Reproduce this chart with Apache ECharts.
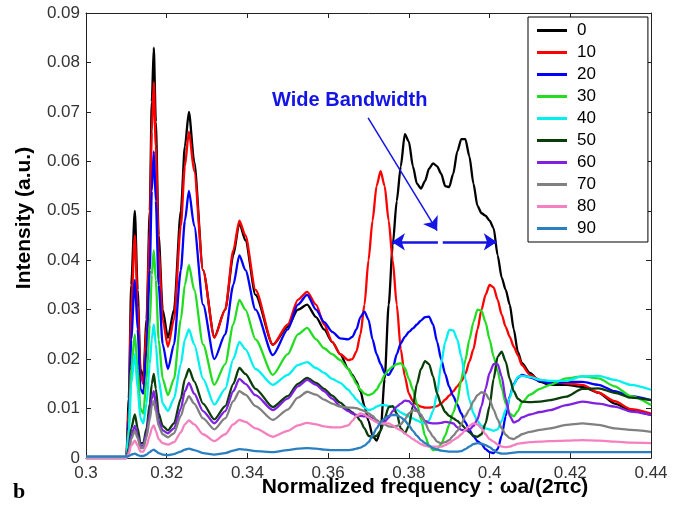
<!DOCTYPE html>
<html>
<head>
<meta charset="utf-8">
<script src="https://cdn.jsdelivr.net/npm/echarts@6/dist/echarts.min.js"></script>
<style>
html, body { margin: 0; padding: 0; background: #fff; }
#main { width: 676px; height: 511px; }
</style>
</head>
<body>
<div id="main"></div>
<script>
// intensity spectra for the incidence angles 0..90
var angles = ['0', '10', '20', '30', '40', '50', '60', '70', '80', '90'];
var colors = ['#000000', '#ff0000', '#0000ff', '#22dd22', '#00f0f0', '#0a3d0a', '#8020e0', '#808080', '#f580c0', '#2a7fc0'];

// normalized frequency wa/(2 pi c)
var freq = [
    0.300, 0.310, 0.3106, 0.3112, 0.3121, 0.3128, 0.3135, 0.3142, 0.3150, 0.3158, 0.3163, 0.3168, 0.3173, 0.3180, 0.3190, 0.3203, 0.3218, 0.3235, 0.3245, 0.3255, 0.3268, 0.3290, 0.3318, 0.3345, 0.3365, 0.3380, 0.3395, 0.3420, 0.3463, 0.3500, 0.3525, 0.3548, 0.3570, 0.3590, 0.3610, 0.3630, 0.3650,
    0.366, 0.367, 0.368, 0.369, 0.370, 0.371, 0.372, 0.373, 0.374, 0.375, 0.376, 0.377, 0.378, 0.379, 0.380, 0.381, 0.382, 0.383, 0.384, 0.385, 0.386, 0.387, 0.388, 0.389, 0.390, 0.391, 0.392, 0.393, 0.394, 0.395, 0.396, 0.397, 0.398, 0.399, 0.400, 0.401, 0.402, 0.403, 0.404, 0.405, 0.406, 0.407, 0.408,
    0.410, 0.4125, 0.415, 0.419, 0.423, 0.427, 0.431, 0.435, 0.440
];

var int0 = [
    0, 0, 0.012, 0.035, 0.050, 0.034, 0.018, 0.016, 0.028, 0.050, 0.072, 0.083, 0.068, 0.045, 0.030, 0.0243, 0.030, 0.050, 0.063, 0.070, 0.060, 0.038, 0.0245, 0.030, 0.041, 0.0475, 0.044, 0.033, 0.0229, 0.0265, 0.030, 0.031, 0.0285, 0.026, 0.0235, 0.021, 0.018,
    0.0168, 0.0155, 0.0135, 0.0105, 0.0075, 0.0045, 0.0035, 0.0055, 0.016, 0.031, 0.043, 0.052, 0.059, 0.0655, 0.064, 0.059, 0.0555, 0.0545, 0.056, 0.0585, 0.0596, 0.059, 0.0575, 0.055, 0.0548, 0.0575, 0.062, 0.0645, 0.0645, 0.061, 0.0555, 0.051, 0.0495, 0.049, 0.048, 0.0465, 0.041, 0.0365, 0.034, 0.031, 0.026, 0.0215, 0.0192,
    0.0172, 0.0154, 0.0148, 0.0148, 0.0144, 0.0132, 0.011, 0.0096, 0.0087
];
var int10 = [
    0, 0, 0.010, 0.030, 0.045, 0.031, 0.017, 0.015, 0.026, 0.046, 0.066, 0.076, 0.063, 0.042, 0.028, 0.0225, 0.028, 0.047, 0.059, 0.066, 0.058, 0.038, 0.0243, 0.030, 0.042, 0.048, 0.045, 0.034, 0.0229, 0.027, 0.032, 0.0336, 0.031, 0.027, 0.0235, 0.021, 0.0198,
    0.020, 0.0215, 0.025, 0.031, 0.040, 0.048, 0.055, 0.058, 0.055, 0.048, 0.040, 0.031, 0.022, 0.0165, 0.013, 0.0115, 0.0108, 0.0104, 0.0102, 0.0102, 0.0103, 0.0105, 0.011, 0.0118, 0.0126, 0.0135, 0.0145, 0.0155, 0.017, 0.0195, 0.022, 0.026, 0.030, 0.033, 0.035, 0.0345, 0.032, 0.029, 0.0265, 0.0245, 0.0225, 0.0208, 0.0188,
    0.0168, 0.0158, 0.0154, 0.0151, 0.0148, 0.0132, 0.0115, 0.0099, 0.009
];
var int20 = [
    0, 0, 0.008, 0.024, 0.036, 0.026, 0.014, 0.013, 0.022, 0.038, 0.054, 0.062, 0.052, 0.035, 0.023, 0.018, 0.023, 0.038, 0.048, 0.054, 0.047, 0.031, 0.020, 0.025, 0.035, 0.041, 0.038, 0.030, 0.0208, 0.026, 0.031, 0.033, 0.030, 0.0275, 0.0255, 0.0242, 0.024,
    0.0245, 0.026, 0.0285, 0.0296, 0.028, 0.024, 0.021, 0.019, 0.0172, 0.0168, 0.018, 0.021, 0.0232, 0.0245, 0.0255, 0.0262, 0.027, 0.0278, 0.0285, 0.0286, 0.027, 0.0235, 0.020, 0.017, 0.0144, 0.0125, 0.0108, 0.009, 0.0072, 0.0057, 0.0044, 0.0034, 0.0028, 0.0018, 0.0012, 0.001, 0.0018, 0.0045, 0.0085, 0.0125, 0.015, 0.0162, 0.0168,
    0.0163, 0.0156, 0.0151, 0.0154, 0.0154, 0.0148, 0.0135, 0.0125, 0.0117
];
var int30 = [
    0, 0, 0.006, 0.018, 0.025, 0.018, 0.010, 0.009, 0.016, 0.027, 0.037, 0.042, 0.036, 0.024, 0.016, 0.0127, 0.016, 0.028, 0.035, 0.039, 0.034, 0.023, 0.0148, 0.019, 0.027, 0.032, 0.030, 0.024, 0.0168, 0.021, 0.025, 0.0263, 0.024, 0.0222, 0.021, 0.0198, 0.018,
    0.0165, 0.015, 0.0138, 0.013, 0.0127, 0.013, 0.0138, 0.0152, 0.0168, 0.0178, 0.0185, 0.019, 0.0192, 0.0182, 0.016, 0.0138, 0.011, 0.0078, 0.0045, 0.0025, 0.0016, 0.0018, 0.0028, 0.0045, 0.0068, 0.0092, 0.0115, 0.016, 0.0198, 0.024, 0.0275, 0.030, 0.0298, 0.0275, 0.024, 0.0205, 0.0175, 0.0142, 0.011, 0.009, 0.0084, 0.0095, 0.0112,
    0.0128, 0.014, 0.0148, 0.0161, 0.0165, 0.0161, 0.0145, 0.0125, 0.0107
];
var int40 = [
    0, 0, 0.005, 0.015, 0.021, 0.014, 0.008, 0.007, 0.011, 0.019, 0.024, 0.027, 0.023, 0.016, 0.011, 0.0095, 0.012, 0.019, 0.024, 0.026, 0.023, 0.016, 0.0108, 0.014, 0.020, 0.0235, 0.022, 0.018, 0.0148, 0.0168, 0.0188, 0.0194, 0.0182, 0.0172, 0.016, 0.0152, 0.0138,
    0.0128, 0.0118, 0.011, 0.0102, 0.0097, 0.0099, 0.0104, 0.0107, 0.0107, 0.0105, 0.0104, 0.0098, 0.0092, 0.0088, 0.0084, 0.008, 0.0076, 0.0072, 0.007, 0.0076, 0.0095, 0.013, 0.019, 0.0235, 0.0259, 0.0258, 0.024, 0.0205, 0.016, 0.0118, 0.009, 0.0075, 0.0065, 0.006, 0.0058, 0.0055, 0.0058, 0.0075, 0.0098, 0.0122, 0.0148, 0.0164, 0.0166,
    0.0164, 0.0158, 0.0156, 0.0156, 0.0165, 0.0166, 0.0158, 0.0148, 0.0138
];
var int50 = [
    0, 0, 0.002, 0.006, 0.0088, 0.006, 0.003, 0.003, 0.006, 0.011, 0.015, 0.017, 0.014, 0.009, 0.0065, 0.0056, 0.007, 0.012, 0.016, 0.018, 0.0155, 0.011, 0.0078, 0.0105, 0.015, 0.0182, 0.017, 0.014, 0.0103, 0.0125, 0.015, 0.0162, 0.0152, 0.014, 0.0126, 0.0112, 0.0098,
    0.0092, 0.0085, 0.0075, 0.006, 0.0045, 0.0042, 0.0045, 0.0055, 0.008, 0.0103, 0.0105, 0.009, 0.006, 0.005, 0.0065, 0.0105, 0.015, 0.018, 0.0196, 0.019, 0.0165, 0.013, 0.0108, 0.0093, 0.0085, 0.008, 0.0075, 0.0068, 0.006, 0.0052, 0.0045, 0.0043, 0.0048, 0.007, 0.0105, 0.016, 0.0205, 0.0215, 0.0195, 0.016, 0.0135, 0.012, 0.0114,
    0.0113, 0.0114, 0.0117, 0.0124, 0.014, 0.0141, 0.0132, 0.0122, 0.0117
];
var int60 = [
    0, 0, 0.0015, 0.0045, 0.0065, 0.0045, 0.0025, 0.0025, 0.005, 0.009, 0.012, 0.0135, 0.011, 0.0075, 0.0056, 0.005, 0.006, 0.010, 0.0135, 0.0152, 0.013, 0.0095, 0.007, 0.0095, 0.0135, 0.016, 0.015, 0.0127, 0.0097, 0.012, 0.0145, 0.0158, 0.0148, 0.0135, 0.012, 0.0105, 0.0095,
    0.009, 0.0087, 0.0085, 0.0084, 0.0084, 0.008, 0.0073, 0.007, 0.0073, 0.0082, 0.0095, 0.0104, 0.011, 0.0116, 0.0115, 0.0107, 0.0097, 0.0085, 0.0075, 0.0071, 0.007, 0.007, 0.0071, 0.0073, 0.0072, 0.007, 0.0062, 0.0057, 0.0056, 0.0057, 0.0065, 0.0078, 0.0105, 0.014, 0.0172, 0.019, 0.019, 0.0165, 0.012, 0.0085, 0.0072, 0.0075, 0.0082,
    0.0088, 0.0093, 0.0097, 0.0107, 0.0114, 0.011, 0.0104, 0.0094, 0.0087
];
var int70 = [
    0, 0, 0.0012, 0.0038, 0.0055, 0.004, 0.002, 0.002, 0.0042, 0.0078, 0.0105, 0.0115, 0.0095, 0.0065, 0.0048, 0.0042, 0.005, 0.0085, 0.011, 0.0125, 0.011, 0.008, 0.0058, 0.008, 0.0115, 0.0135, 0.0128, 0.0105, 0.0077, 0.0098, 0.0122, 0.0134, 0.0128, 0.0118, 0.011, 0.0104, 0.0102,
    0.0102, 0.0101, 0.0098, 0.0095, 0.009, 0.0085, 0.0077, 0.0071, 0.0068, 0.0064, 0.0063, 0.0065, 0.0068, 0.0078, 0.009, 0.0097, 0.0095, 0.0088, 0.0072, 0.0055, 0.0043, 0.0033, 0.003, 0.0032, 0.0036, 0.0045, 0.0055, 0.0068, 0.0085, 0.0098, 0.0115, 0.0127, 0.0133, 0.013, 0.0118, 0.0098, 0.0078, 0.006, 0.0047, 0.004, 0.0038, 0.0043, 0.0048,
    0.0053, 0.0057, 0.006, 0.0067, 0.007, 0.0067, 0.006, 0.0057, 0.0053
];
var int80 = [
    0, 0, 0.0008, 0.0025, 0.0035, 0.0025, 0.0013, 0.0013, 0.0025, 0.0045, 0.006, 0.0066, 0.0055, 0.0038, 0.003, 0.0027, 0.0032, 0.0052, 0.0068, 0.0076, 0.0068, 0.0048, 0.0034, 0.0048, 0.0068, 0.0077, 0.0073, 0.006, 0.0043, 0.0055, 0.0066, 0.0071, 0.0068, 0.0064, 0.0062, 0.0062, 0.0066,
    0.0075, 0.0085, 0.009, 0.0088, 0.0082, 0.0077, 0.0072, 0.007, 0.007, 0.007, 0.0066, 0.006, 0.0056, 0.005, 0.0044, 0.0038, 0.0033, 0.0028, 0.0025, 0.0023, 0.0023, 0.0023, 0.0023, 0.0026, 0.003, 0.0036, 0.0041, 0.0048, 0.0057, 0.0065, 0.007, 0.0068, 0.006, 0.0048, 0.0038, 0.0033, 0.0027, 0.0023, 0.0022, 0.0023, 0.0026, 0.0029, 0.003,
    0.0032, 0.0033, 0.0034, 0.0035, 0.0036, 0.0035, 0.0033, 0.0031, 0.003
];
var int90 = [
    0.0003, 0.0003, 0.0004, 0.0007, 0.0009, 0.0006, 0.0004, 0.0004, 0.0007, 0.0012, 0.0015, 0.0017, 0.0014, 0.001, 0.0007, 0.0006, 0.0008, 0.0013, 0.0017, 0.0019, 0.0016, 0.001, 0.0007, 0.001, 0.0015, 0.0018, 0.0017, 0.0014, 0.0012, 0.0016, 0.0019, 0.002, 0.0019, 0.0017, 0.0016, 0.0016, 0.0016,
    0.0017, 0.0019, 0.0021, 0.0025, 0.0032, 0.0045, 0.006, 0.0072, 0.008, 0.0085, 0.0087, 0.0087, 0.0082, 0.0076, 0.0066, 0.0055, 0.0045, 0.0036, 0.003, 0.0025, 0.002, 0.0017, 0.0015, 0.0014, 0.0013, 0.0013, 0.0013, 0.0014, 0.0018, 0.0023, 0.0028, 0.003, 0.0029, 0.0026, 0.0022, 0.0016, 0.0011, 0.0009, 0.0009, 0.001, 0.0011, 0.0012, 0.0012,
    0.0012, 0.0012, 0.0012, 0.0012, 0.0012, 0.0012, 0.0012, 0.0012, 0.0012
];
var intensity = [int0, int10, int20, int30, int40, int50, int60, int70, int80, int90];

var myChart = echarts.init(document.getElementById('main'));
var font = "'Liberation Sans', Arial, sans-serif";

var series = angles.map(function (name, k) {
    if (intensity[k].length !== freq.length) console.error('length mismatch', name, intensity[k].length);
    return {
        name: name,
        type: 'line',
        symbol: 'none',
        smooth: 0.25,
        smoothMonotone: 'x',
        color: colors[k],
        lineStyle: { width: 2.3, color: colors[k] },
        data: freq.map(function (f, i) { return [f, intensity[k][i]]; })
    };
});

// "Wide Bandwidth" annotation
series.push({
    name: 'note',
    type: 'line',
    data: [],
    z: 5,
    markLine: {
        silent: true,
        symbol: ['none', 'arrow'],
        symbolSize: 13,
        label: { show: false },
        lineStyle: { color: '#1414e6', width: 2.5, type: 'solid' },
        data: [
            [{ coord: [0.3699, 0.0688], lineStyle: { width: 1.5 } }, { coord: [0.3870, 0.0460] }],
            [{ coord: [0.3872, 0.0437] }, { coord: [0.3758, 0.0437] }],
            [{ coord: [0.3884, 0.0437] }, { coord: [0.4018, 0.0437] }]
        ]
    },
    markPoint: {
        silent: true,
        symbol: 'circle',
        symbolSize: 0,
        label: {
            show: true,
            position: 'right',
            distance: 0,
            formatter: 'Wide Bandwidth',
            color: '#1414e6',
            fontWeight: 'bold',
            fontSize: 20,
            fontFamily: font
        },
        data: [{ coord: [0.3461, 0.0724] }]
    }
});

option = {
    animation: false,
    backgroundColor: '#fff',
    grid: { left: 86, right: 25, top: 13, bottom: 53 },
    legend: {
        data: angles,
        orient: 'vertical',
        left: 528,
        top: 17,
        icon: 'rect',
        itemWidth: 30,
        itemHeight: 3,
        itemGap: 5,
        padding: [5, 52, 5, 9],
        backgroundColor: '#fff',
        borderColor: '#000',
        borderWidth: 1,
        textStyle: { fontSize: 17, color: '#000', fontFamily: font, padding: [0, 0, 0, 5] }
    },
    xAxis: [{
        type: 'value',
        min: 0.3,
        max: 0.44,
        interval: 0.02,
        position: 'bottom',
        axisLine: { onZero: false, lineStyle: { color: '#222' } },
        axisTick: { inside: true, length: 5, lineStyle: { color: '#222' } },
        axisLabel: { fontSize: 17, color: '#333', margin: 7, fontFamily: font },
        splitLine: { show: false }
    }, {
        type: 'value',
        min: 0.3,
        max: 0.44,
        interval: 0.02,
        position: 'top',
        axisLine: { onZero: false, lineStyle: { color: '#222' } },
        axisTick: { inside: true, length: 5, lineStyle: { color: '#222' } },
        axisLabel: { show: false },
        splitLine: { show: false }
    }],
    yAxis: [{
        type: 'value',
        min: 0,
        max: 0.09,
        interval: 0.01,
        position: 'left',
        axisLine: { show: true, onZero: false, lineStyle: { color: '#222' } },
        axisTick: { show: true, inside: true, length: 5, lineStyle: { color: '#222' } },
        axisLabel: { fontSize: 17, color: '#333', margin: 6, fontFamily: font },
        splitLine: { show: false }
    }, {
        type: 'value',
        min: 0,
        max: 0.09,
        interval: 0.01,
        position: 'right',
        axisLine: { show: true, onZero: false, lineStyle: { color: '#222' } },
        axisTick: { show: true, inside: true, length: 5, lineStyle: { color: '#222' } },
        axisLabel: { show: false },
        splitLine: { show: false }
    }],
    graphic: [{
        type: 'text',
        x: 425,
        y: 487,
        style: {
            text: 'Normalized frequency : \u03c9a/(2\u03c0c)',
            font: "bold 21px 'Liberation Sans', Arial, sans-serif",
            textAlign: 'center',
            textVerticalAlign: 'middle',
            fill: '#000'
        }
    }, {
        type: 'text',
        x: 24,
        y: 218,
        rotation: Math.PI / 2,
        style: {
            text: 'Intensity (a.u.)',
            font: "bold 21px 'Liberation Sans', Arial, sans-serif",
            textAlign: 'center',
            textVerticalAlign: 'middle',
            fill: '#000'
        }
    }, {
        type: 'text',
        x: 19,
        y: 492,
        style: {
            text: 'b',
            font: "bold 22px 'Liberation Serif', 'DejaVu Serif', serif",
            textAlign: 'center',
            textVerticalAlign: 'middle',
            fill: '#000'
        }
    }],
    series: series
};
myChart.setOption(option);
</script>
</body>
</html>
